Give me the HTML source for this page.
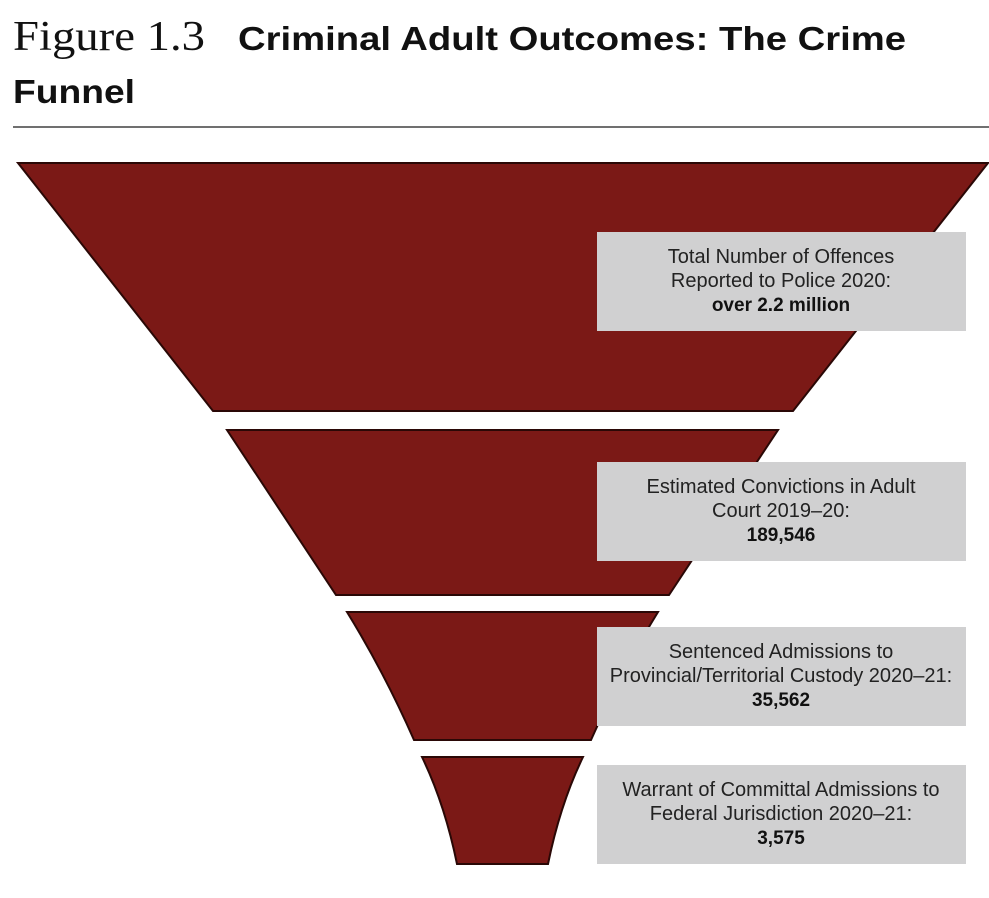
<!DOCTYPE html>
<html><head><meta charset="utf-8"><style>
body{margin:0;background:#fff;width:989px;height:893px;overflow:hidden;font-family:"Liberation Sans",sans-serif}
</style></head><body>
<svg width="989" height="893" viewBox="0 0 989 893">
<text x="13" y="50" font-family="Liberation Serif, serif" font-size="42" textLength="192" lengthAdjust="spacingAndGlyphs" fill="#111">Figure 1.3</text>
<text x="238" y="50" font-family="Liberation Sans, sans-serif" font-weight="bold" font-size="33" textLength="668" lengthAdjust="spacingAndGlyphs" fill="#111">Criminal Adult Outcomes: The Crime</text>
<text x="13" y="103" font-family="Liberation Sans, sans-serif" font-weight="bold" font-size="33" textLength="122" lengthAdjust="spacingAndGlyphs" fill="#111">Funnel</text>
<rect x="13" y="126" width="976" height="2" fill="#707070"/>
<g id="funnel"></g>
<g id="labels"></g>
</svg>
<script>
const stages = ["Total Number of Offences|Reported to Police 2020:", "Estimated Convictions in Adult|Court 2019–20:", "Sentenced Admissions to|Provincial/Territorial Custody 2020–21:", "Warrant of Committal Admissions to|Federal Jurisdiction 2020–21:"];
const values = [2200000, 189546, 35562, 3575];
const valueLabels = ["over 2.2 million", "189,546", "35,562", "3,575"];
const stageNames = ["reported-offences", "adult-convictions", "provincial-custody", "federal-admissions"];

// layout of funnel segments (geometry, not data)
const seg = [
 {y0:163,y1:411,l0:18,r0:988,l1:213,r1:793,curve:0},
 {y0:430,y1:595,l0:227,r0:778,l1:336,r1:669,curve:0},
 {y0:612,y1:740,l0:347,r0:658,l1:414,r1:591,curve:0.12},
 {y0:757,y1:864,l0:422,r0:583,l1:457,r1:548,curve:0.3}
];
const boxY = [232, 462, 627, 765];
const NS="http://www.w3.org/2000/svg";
const fg=document.getElementById('funnel'), lg=document.getElementById('labels');
values.forEach((v,i)=>{
  const s=seg[i];
  const mid=(a,b)=>(a+b)/2;
  const c=s.curve;
  const lcx=mid(s.l0,s.l1)*(1-c)+s.l1*c, rcx=mid(s.r0,s.r1)*(1-c)+s.r1*c;
  const cy=mid(s.y0,s.y1)*(1-c)+(s.y0+(s.y1-s.y0)*0.3)*c;
  const d=`M${s.l0},${s.y0} L${s.r0},${s.y0} Q${rcx},${cy} ${s.r1},${s.y1} L${s.l1},${s.y1} Q${lcx},${cy} ${s.l0},${s.y0} Z`;
  const p=document.createElementNS(NS,'path');
  p.setAttribute('d',d);p.setAttribute('fill','#7b1916');p.setAttribute('stroke','#2a0806');p.setAttribute('stroke-width','2');
  
  
  fg.appendChild(p);
  const r=document.createElementNS(NS,'rect');
  r.setAttribute('x',597);r.setAttribute('y',boxY[i]);r.setAttribute('width',369);r.setAttribute('height',99);r.setAttribute('fill','#d0d0d1');
  
  
  lg.appendChild(r);
  const lines=stages[i].split('|');
  lines.forEach((ln,j)=>{
    const t=document.createElementNS(NS,'text');
    t.setAttribute('x',781);t.setAttribute('y',boxY[i]+31+j*24);t.setAttribute('text-anchor','middle');
    t.setAttribute('font-size','20');t.setAttribute('fill','#222');t.textContent=ln;
    
    
    lg.appendChild(t);
  });
  const t=document.createElementNS(NS,'text');
  t.setAttribute('x',781);t.setAttribute('y',boxY[i]+79);t.setAttribute('text-anchor','middle');
  t.setAttribute('font-size','19');t.setAttribute('font-weight','bold');t.setAttribute('fill','#111');t.textContent=valueLabels[i];
  
  
  lg.appendChild(t);
});
</script>
</body></html>
